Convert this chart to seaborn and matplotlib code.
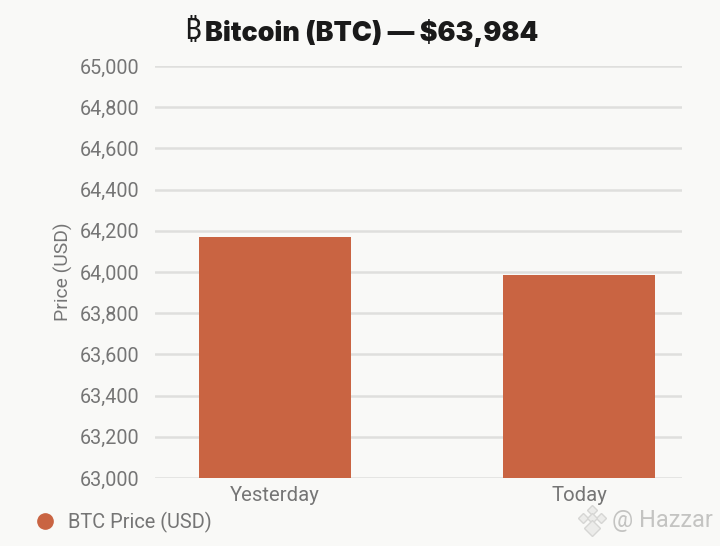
import matplotlib
matplotlib.use("Agg")
import matplotlib.pyplot as plt
from matplotlib.lines import Line2D
import pandas as pd
import seaborn as sns

days = ["Yesterday", "Today"]
prices = [64170, 63984]
y_ticks = [63000, 63200, 63400, 63600, 63800, 64000, 64200, 64400, 64600, 64800, 65000]

bg = "#f9f9f7"
bar_color = "#c96442"
text_color = "#757575"
grid_color = "#dfdfdd"

sns.set_theme(style="whitegrid")
plt.rcParams["font.family"] = ["Roboto", "DejaVu Sans"]

# whichever installed family carries the bitcoin sign
sign_fonts = ["Noto Sans", "Open Sans", "Lato", "Inter", "Roboto", "Liberation Sans",
              "Noto Sans CJK SC", "DejaVu Sans"]

df = pd.DataFrame({"day": days, "price": prices})

fig = plt.figure(figsize=(7.2, 5.46), dpi=100, facecolor=bg)
ax = fig.add_axes([155 / 720, 1 - 478 / 546, 527 / 720, 412 / 546], facecolor=bg)

sns.barplot(data=df, x="day", y="price", color=bar_color, saturation=1, width=0.5,
            linewidth=0, ax=ax, zorder=3)

ax.set_xlim(-0.395, 1.339)
ax.set_ylim(63000, 65000)
ax.set_yticks(y_ticks)
ax.set_yticklabels([f"{t:,}" for t in y_ticks])
ax.set_xlabel("")
ax.set_ylabel("Price (USD)", fontsize=13.9, color=text_color, labelpad=5)
ax.tick_params(axis="y", labelsize=14.2, labelcolor=text_color, length=0, pad=11)
ax.tick_params(axis="x", labelsize=14.6, labelcolor=text_color, length=0, pad=6)
ax.grid(axis="y", color=grid_color, linewidth=1.8)
ax.grid(axis="x", visible=False)
ax.set_axisbelow(True)
sns.despine(ax=ax, left=True, bottom=True)

# title, bitcoin sign comes out lighter than the words
fig.text(192 / 720, 1 - 32 / 546, "\u20bf", ha="center", va="center", fontsize=21, fontweight="medium",
         color="#1a1a1a", family=sign_fonts)
fig.text(205 / 720, 1 - 33 / 546, "Bitcoin (BTC) \u2014 $63,984", ha="left", va="center",
         fontsize=19.3, fontweight="black", color="#1a1a1a", family=["Inter", "DejaVu Sans"])

# legend
fig.add_artist(Line2D([45 / 720], [1 - 521 / 546], marker="o", markersize=11, color=bar_color,
                      linestyle="none", transform=fig.transFigure))
fig.text(68 / 720, 1 - 522 / 546, "BTC Price (USD)", ha="left", va="center", fontsize=14.4, color=text_color)

# watermark
for mx, my, ms in [(592, 510, 5), (583, 518, 5), (601, 518, 5), (592, 518, 5), (592, 528, 8)]:
    fig.add_artist(Line2D([mx / 720], [1 - my / 546], marker="D", markersize=ms, markerfacecolor="#ececea",
                          markeredgecolor="#d6d6d4", linestyle="none", transform=fig.transFigure))
fig.text(612 / 720, 1 - 521 / 546, "@ Hazzar", ha="left", va="center", fontsize=16.9, color="#c4c4c2")

fig.savefig("out.png", dpi=100, facecolor=bg)
